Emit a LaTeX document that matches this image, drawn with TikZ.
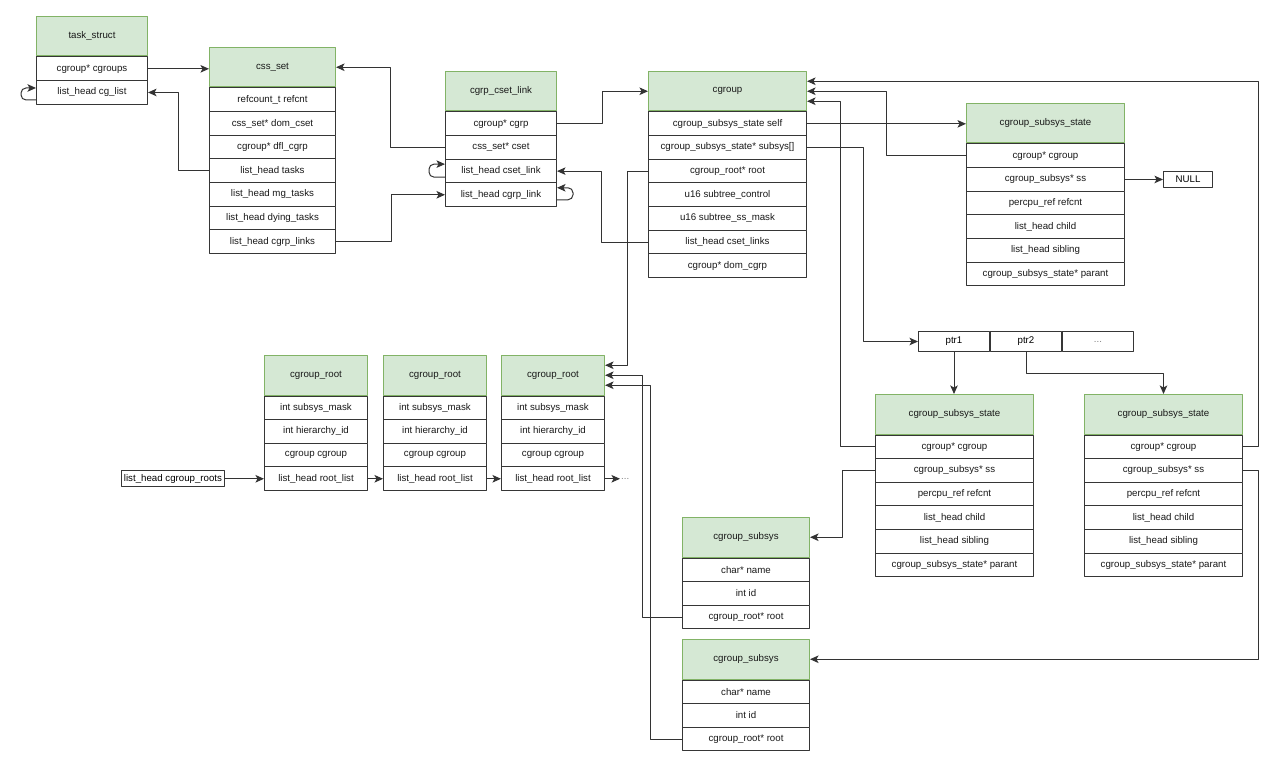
\documentclass[tikz,border=0pt]{standalone}
\usepackage{fontspec}
\setmainfont{Liberation Sans}
\usetikzlibrary{arrows.meta,positioning}

\definecolor{hdrfill}{HTML}{D5E8D4}
\definecolor{hdrline}{HTML}{82B366}
\definecolor{boxline}{HTML}{363636}
\definecolor{wire}{HTML}{333333}

\newcommand{\fieldfont}{\fontsize{9.7}{11}\selectfont}

\tikzset{
  hdr/.style={draw=hdrline, fill=hdrfill, line width=1pt, anchor=north west,
    minimum height=39.5pt, inner sep=0pt, font=\fieldfont, text=black!90},
  fld/.style={draw=boxline, fill=white, line width=1pt, anchor=north,
    minimum height=23.65pt, inner sep=0pt, font=\fieldfont, text=black!90},
  ptrcell/.style={draw=boxline, fill=white, line width=1pt, minimum height=20pt,
    minimum width=71pt, inner sep=0pt, font=\fieldfont},
  valbox/.style={draw=boxline, fill=white, line width=1pt, minimum height=16pt,
    inner sep=0pt, font=\fieldfont},
  arr/.style={draw=wire, line width=1pt, -{Stealth[length=8.5pt,width=7.5pt,inset=2pt]}},
}

% name, x, y, width, title, fields
\newcommand{\structbox}[6]{%
  \node[hdr, minimum width=#4] (#1) at (#2,#3) {#5};
  \foreach \fld [count=\k] in {#6}
    \node[fld, minimum width=#4] (#1-\k) at ([yshift={-(\k-1)*23.65pt}]#1.south) {\fld};
}

\begin{document}
\begin{tikzpicture}[x=1pt,y=-1pt,line cap=round,line join=round]
  \fill[white] (0,0) rectangle (1280,765);
  \useasboundingbox (0,0) rectangle (1280,765);

  % upper row
  \structbox{ts}{36}{16}{111}{task\_struct}{cgroup* cgroups,list\_head cg\_list}
  \structbox{cssset}{209}{47}{126}{css\_set}{refcount\_t refcnt,css\_set* dom\_cset,
    cgroup* dfl\_cgrp,list\_head tasks,list\_head mg\_tasks,list\_head dying\_tasks,
    list\_head cgrp\_links}
  \structbox{link}{445}{71}{111}{cgrp\_cset\_link}{cgroup* cgrp,css\_set* cset,
    list\_head cset\_link,list\_head cgrp\_link}
  \structbox{cgroup}{648}{71}{158}{cgroup}{cgroup\_subsys\_state self,
    cgroup\_subsys\_state* subsys[],cgroup\_root* root,u16 subtree\_control,
    u16 subtree\_ss\_mask,list\_head cset\_links,cgroup* dom\_cgrp}
  \structbox{css0}{966}{103}{158}{cgroup\_subsys\_state}{cgroup* cgroup,
    cgroup\_subsys* ss,percpu\_ref refcnt,list\_head child,list\_head sibling,
    cgroup\_subsys\_state* parant}
  \node[valbox, minimum width=49pt, right=38pt of css0-2] (nul) {NULL};

  % subsys array
  \node[ptrcell, anchor=north west] (ptr1) at (918,331) {ptr1};
  \node[ptrcell, right=0pt of ptr1] (ptr2) {ptr2};
  \node[ptrcell, right=0pt of ptr2, text=gray] (ptr3) {...};

  \structbox{css1}{875}{394}{158}{cgroup\_subsys\_state}{cgroup* cgroup,
    cgroup\_subsys* ss,percpu\_ref refcnt,list\_head child,list\_head sibling,
    cgroup\_subsys\_state* parant}
  \structbox{css2}{1084}{394}{158}{cgroup\_subsys\_state}{cgroup* cgroup,
    cgroup\_subsys* ss,percpu\_ref refcnt,list\_head child,list\_head sibling,
    cgroup\_subsys\_state* parant}

  % roots
  \structbox{root1}{264}{355}{103}{cgroup\_root}{int subsys\_mask,int hierarchy\_id,
    cgroup cgroup,list\_head root\_list}
  \structbox{root2}{383}{355}{103}{cgroup\_root}{int subsys\_mask,int hierarchy\_id,
    cgroup cgroup,list\_head root\_list}
  \structbox{root3}{501}{355}{103}{cgroup\_root}{int subsys\_mask,int hierarchy\_id,
    cgroup cgroup,list\_head root\_list}
  \node[valbox, minimum width=103pt, left=39pt of root1-4] (roots) {list\_head cgroup\_roots};
  \node[right=15pt of root3-4, inner sep=1pt, font=\fieldfont, text=gray] (more) {...};

  % subsystems
  \structbox{sub1}{682}{517}{127}{cgroup\_subsys}{char* name,int id,cgroup\_root* root}
  \structbox{sub2}{682}{639}{127}{cgroup\_subsys}{char* name,int id,cgroup\_root* root}

  % links
  \draw[arr] (ts-1.east) -- (ts-1.east -| cssset.west);
  \draw[arr] (cssset-4.west) -- ++(-31,0) |- (ts-2.east);
  \draw[arr, rounded corners=5pt] ([yshift=-7.5pt]ts-2.west) -- ++(-15,0) -- ++(0,-12)
    -- ([yshift=4.5pt]ts-2.west);
  \draw[arr] (link-2.west) -- ++(-55,0) |- (cssset.east);
  \draw[arr] (cssset-7.east) -- ++(55,0) |- (link-4.west);
  \draw[arr, rounded corners=5pt] ([yshift=-6pt]link-3.west) -- ++(-16,0) -- ++(0,-13)
    -- ([yshift=7pt]link-3.west);
  \draw[arr, rounded corners=5pt] ([yshift=-5pt]link-4.east) -- ++(16,0) -- ++(0,-12)
    -- ([yshift=7pt]link-4.east);
  \draw[arr] (link-1.east) -- ++(45,0) |- (cgroup.west);
  \draw[arr] (cgroup-6.west) -- ++(-47,0) |- (link-3.east);
  \draw[arr] (cgroup-3.west) -- ++(-21,0) |- ([yshift=10pt]root3.east);
  \draw[arr] (cgroup-1.east) -- (cgroup-1.east -| css0.west);
  \draw[arr] (cgroup-2.east) -- ++(56,0) |- (ptr1.west);
  \draw[arr] (css0-1.west) -- ++(-80,0) |- (cgroup.east);
  \draw[arr] (css0-2.east) -- (nul.west);
  \draw[arr] (css1-1.west) -- ++(-35,0) |- ([yshift=-10pt]cgroup.east);
  \draw[arr] (css2-1.east) -- ++(15,0) |- ([yshift=10pt]cgroup.east);
  \draw[arr] (ptr1.south) -- (ptr1.south |- css1.north);
  \draw[arr] (ptr2.south) -- ++(0,21) -| (css2.north);
  \draw[arr] (css1-2.west) -- ++(-33,0) |- (sub1.east);
  \draw[arr] (css2-2.east) -- ++(15,0) |- (sub2.east);
  \draw[arr] (sub1-3.west) -- ++(-40,0) |- (root3.east);
  \draw[arr] (sub2-3.west) -- ++(-32,0) |- ([yshift=-10pt]root3.east);
  \draw[arr] (roots) -- (root1-4);
  \draw[arr] (root1-4) -- (root2-4);
  \draw[arr] (root2-4) -- (root3-4);
  \draw[arr] (root3-4) -- (more);
\end{tikzpicture}
\end{document}
